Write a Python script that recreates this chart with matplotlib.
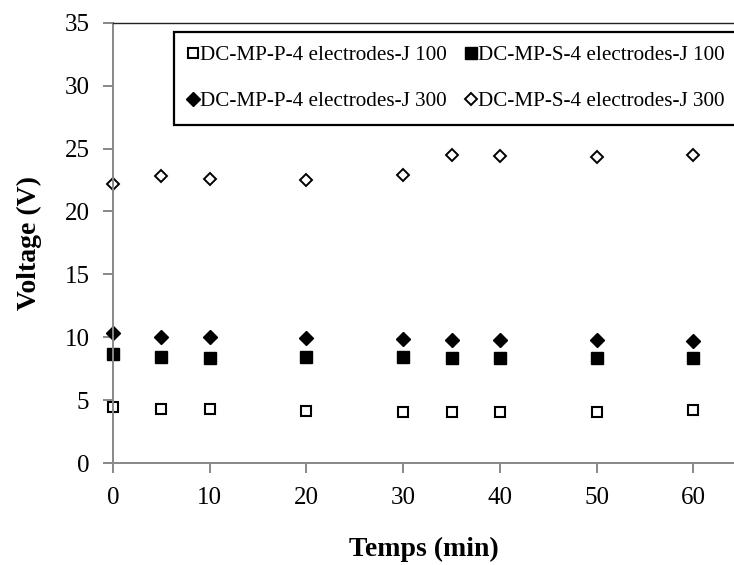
import matplotlib
matplotlib.use("Agg")
import matplotlib.pyplot as plt

plt.rcParams["font.family"] = ["Liberation Serif", "DejaVu Serif"]

temps = [0, 5, 10, 20, 30, 35, 40, 50, 60]
p_j100 = [4.47, 4.28, 4.28, 4.15, 4.07, 4.07, 4.07, 4.07, 4.2]
s_j100 = [8.67, 8.46, 8.38, 8.46, 8.46, 8.38, 8.38, 8.38, 8.38]
p_j300 = [10.37, 10.05, 10.05, 9.95, 9.85, 9.8, 9.8, 9.8, 9.7]
s_j300 = [22.2, 22.8, 22.55, 22.5, 22.9, 24.5, 24.4, 24.3, 24.5]

labels = [
    "DC-MP-P-4 electrodes-J 100",
    "DC-MP-S-4 electrodes-J 100",
    "DC-MP-P-4 electrodes-J 300",
    "DC-MP-S-4 electrodes-J 300",
]
xticks = [0, 10, 20, 30, 40, 50, 60]
yticks = [0, 5, 10, 15, 20, 25, 30, 35]

fig = plt.figure(figsize=(7.34, 5.65), dpi=100)
ax = fig.add_axes([0.154, 0.1805, 0.846, 0.7793])

h0, = ax.plot(temps, p_j100, ls="none", marker="s", ms=7.5, mfc="white", mec="black", mew=1.5, clip_on=False)
h1, = ax.plot(temps, s_j100, ls="none", marker="s", ms=8.5, mfc="black", mec="black", clip_on=False)
h2, = ax.plot(temps, p_j300, ls="none", marker="D", ms=7, mfc="black", mec="black", clip_on=False)
h3, = ax.plot(temps, s_j300, ls="none", marker="D", ms=6.5, mfc="white", mec="black", mew=1.4, clip_on=False)

ax.set_xlim(0, 64.2)
ax.set_ylim(0, 35)
ax.set_xticks(xticks)
ax.set_yticks(yticks)

for side in ("left", "bottom"):
    ax.spines[side].set_color("#888888")
    ax.spines[side].set_linewidth(1.4)
ax.spines["right"].set_visible(False)
ax.spines["top"].set_color("#222222")
ax.spines["top"].set_linewidth(1.0)

ax.tick_params(axis="both", colors="#888888", length=7, width=1.4, labelsize=18, labelcolor="black")
ax.tick_params(axis="x", pad=10)
ax.tick_params(axis="y", pad=10)

ax.set_xlabel("Temps (min)", fontsize=20, fontweight="bold", labelpad=20)
ax.set_ylabel("Voltage (V)", fontsize=20, fontweight="bold", labelpad=16)

# rows: J 100 on top, J 300 below (legend fills column by column)
handles = [h0, h2, h1, h3]
leg_labels = [labels[0], labels[2], labels[1], labels[3]]
leg = ax.legend(handles, leg_labels, ncol=2, loc="upper left", bbox_to_anchor=(0.098, 0.9795),
                fontsize=15.2, frameon=True, fancybox=False, edgecolor="black", framealpha=1,
                handlelength=0.55, handletextpad=0.05, columnspacing=0.85,
                labelspacing=1.25, borderpad=0.65, borderaxespad=0, markerscale=1.0)
leg.get_frame().set_linewidth(1.6)

fig.savefig("out.png", dpi=100)
